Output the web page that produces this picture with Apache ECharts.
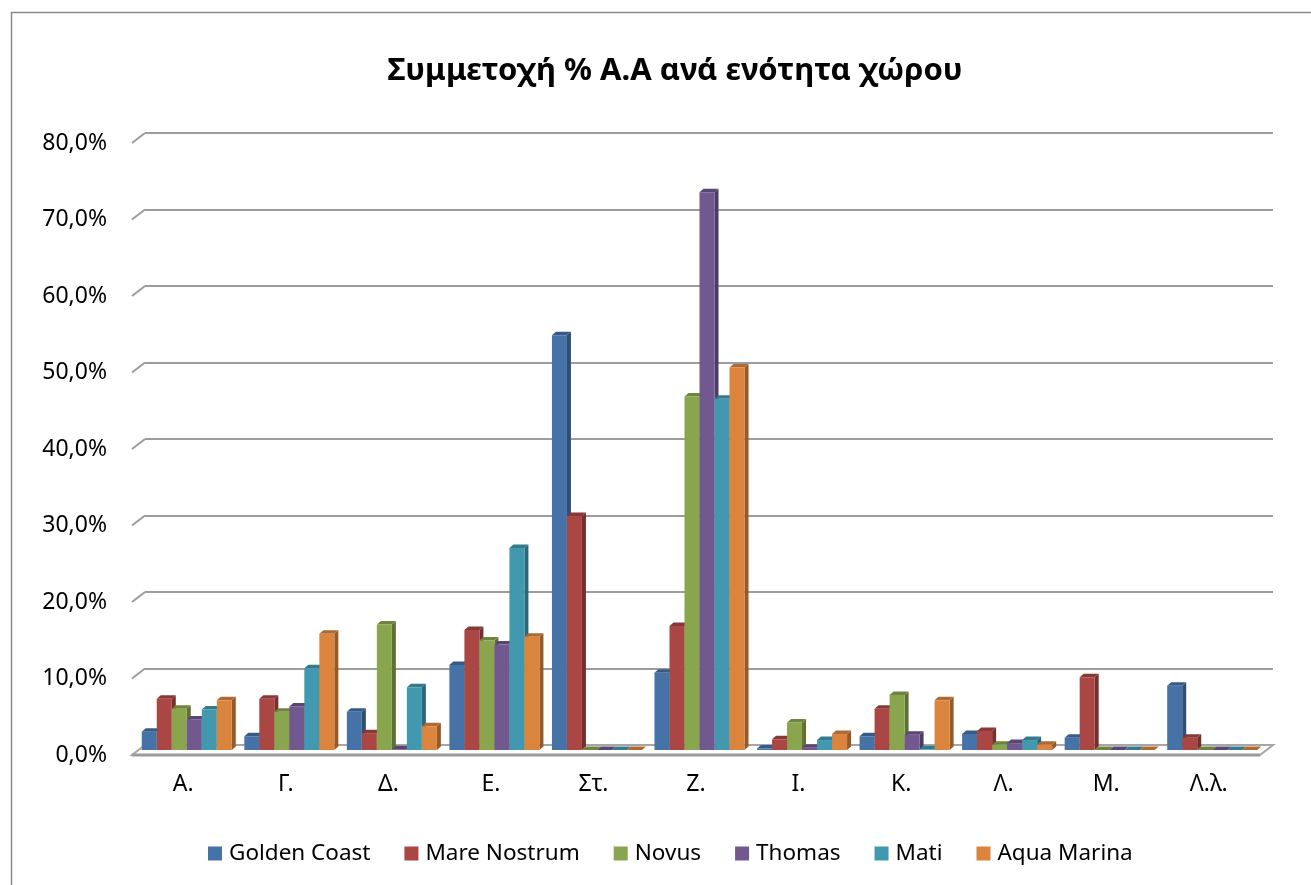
<!DOCTYPE html>
<html>
<head>
<meta charset="utf-8">
<script src="https://cdn.jsdelivr.net/npm/echarts@6/dist/echarts.min.js"></script>
<style>
  html, body { margin: 0; padding: 0; background: #ffffff; }
  #chart { width: 1311px; height: 885px; }
</style>
</head>
<body>
<div id="chart"></div>
<script>
// Participation share (%) per space unit, one array per site
const categories = ['Α.', 'Γ.', 'Δ.', 'Ε.', 'Στ.', 'Ζ.', 'Ι.', 'Κ.', 'Λ.', 'Μ.', 'Λ.λ.'];
const seriesNames = ['Golden Coast', 'Mare Nostrum', 'Novus', 'Thomas', 'Mati', 'Aqua Marina'];

const goldenCoast = [2.4, 1.8, 5.0, 11.1, 54.2, 10.1, 0.2, 1.8, 2.1, 1.6, 8.4];
const mareNostrum = [6.7, 6.7, 2.2, 15.7, 30.6, 16.2, 1.4, 5.4, 2.5, 9.5, 1.6];
const novus       = [5.4, 5.0, 16.4, 14.3, 0.0, 46.2, 3.6, 7.2, 0.7, 0.0, 0.0];
const thomas      = [4.0, 5.7, 0.1, 13.8, 0.0, 72.9, 0.3, 2.0, 0.9, 0.0, 0.0];
const mati        = [5.3, 10.7, 8.2, 26.4, 0.0, 45.9, 1.3, 0.1, 1.3, 0.0, 0.0];
const aquaMarina  = [6.5, 15.2, 3.1, 14.8, 0.0, 50.0, 2.1, 6.5, 0.7, 0.0, 0.0];

const yTicks = [0, 10, 20, 30, 40, 50, 60, 70, 80];

const seriesValues = [goldenCoast, mareNostrum, novus, thomas, mati, aquaMarina];
const frontColors = ['#4572A7', '#AA4643', '#89A54E', '#71588F', '#4198AF', '#DB843D'];

// 3D look: depth of the back wall, offset of the bar row, depth of each bar
const WALL_DX = 13, WALL_DY = -10;
const ROW_DX = 3.5, ROW_DY = -5;
const BAR_DX = 4, BAR_DY = -3.5;
const BAR_FRAC = 15 / 102.5;

function shade(hex, k) {
  const n = parseInt(hex.slice(1), 16);
  const r = Math.round(((n >> 16) & 255) * k);
  const g = Math.round(((n >> 8) & 255) * k);
  const b = Math.round((n & 255) * k);
  return 'rgb(' + r + ',' + g + ',' + b + ')';
}

function pctLabel(v) {
  return v.toFixed(1).replace('.', ',') + '%';
}

function makeBarRenderer(sIdx) {
  const front = frontColors[sIdx];
  const side = shade(front, 0.68);
  const top = shade(front, 0.8);
  return function (params, api) {
    const cat = api.value(0);
    const val = api.value(1);
    const base = api.coord([cat, 0]);
    const head = api.coord([cat, val]);
    const band = api.size([1, 0])[0];
    const bw = band * BAR_FRAC;
    const x0 = base[0] - 3 * bw + sIdx * bw + ROW_DX;
    const x1 = x0 + bw;
    const yb = base[1] + ROW_DY;
    const yt = head[1] + ROW_DY;
    return {
      type: 'group',
      children: [
        {
          type: 'polygon',
          shape: { points: [[x1, yb], [x1 + BAR_DX, yb + BAR_DY], [x1 + BAR_DX, yt + BAR_DY], [x1, yt]] },
          style: { fill: side }
        },
        {
          type: 'polygon',
          shape: { points: [[x0, yt], [x1, yt], [x1 + BAR_DX, yt + BAR_DY], [x0 + BAR_DX, yt + BAR_DY]] },
          style: { fill: top }
        },
        {
          type: 'rect',
          shape: { x: x0, y: yt, width: bw, height: Math.max(0, yb - yt) },
          style: { fill: front }
        }
      ]
    };
  };
}

const barSeries = seriesValues.map(function (vals, i) {
  return {
    type: 'custom',
    name: seriesNames[i],
    xAxisIndex: 0,
    yAxisIndex: 0,
    itemStyle: { color: frontColors[i] },
    renderItem: makeBarRenderer(i),
    data: vals.map(function (v, c) { return [c, v]; }),
    silent: true,
    z: 5
  };
});

// floor slab of the 3D plot
const floorSeries = {
  type: 'custom',
  xAxisIndex: 0,
  yAxisIndex: 0,
  silent: true,
  z: 2,
  data: [[0, 0]],
  renderItem: function (params, api) {
    const cs = params.coordSys;
    const y0 = api.coord([0, 0])[1];
    const xl = cs.x, xr = cs.x + cs.width;
    return {
      type: 'group',
      children: [
        {
          type: 'polygon',
          shape: { points: [[xl, y0], [xl + WALL_DX, y0 + WALL_DY], [xr + WALL_DX, y0 + WALL_DY], [xr, y0]] },
          style: { fill: '#ffffff', stroke: '#a6a6a6', lineWidth: 2 }
        },
        {
          type: 'line',
          shape: { x1: xl, y1: y0, x2: xr, y2: y0 },
          style: { stroke: '#9a9a9a', lineWidth: 3 }
        }
      ]
    };
  }
};

// slanted side-wall segments joining each gridline to the value axis
const sideWallSeries = {
  type: 'custom',
  xAxisIndex: 0,
  yAxisIndex: 0,
  silent: true,
  z: 2,
  data: yTicks.slice(1).map(function (v) { return [0, v]; }),
  renderItem: function (params, api) {
    const cs = params.coordSys;
    const y = api.coord([0, api.value(1)])[1];
    return {
      type: 'line',
      shape: { x1: cs.x, y1: y, x2: cs.x + WALL_DX, y2: y + WALL_DY },
      style: { stroke: '#9c9c9c', lineWidth: 2 }
    };
  }
};

const chart = echarts.init(document.getElementById('chart'), null, { renderer: 'canvas' });

const FONT = '"Noto Sans", "Open Sans", "DejaVu Sans", sans-serif';

chart.setOption({
  animation: false,
  backgroundColor: '#ffffff',
  textStyle: { fontFamily: FONT },
  title: {
    text: 'Συμμετοχή % Α.Α ανά ενότητα χώρου',
    left: 670,
    top: 51,
    textAlign: 'center',
    textStyle: { fontFamily: FONT, fontSize: 31, fontWeight: 'bold', color: '#000000' }
  },
  graphic: [
    {
      type: 'rect',
      shape: { x: 11.5, y: 12.5, width: 1400, height: 1000 },
      style: { fill: 'none', stroke: '#8a8a8a', lineWidth: 1.5 },
      silent: true,
      z: 0
    }
  ],
  legend: {
    data: seriesNames.map(function (n) { return { name: n, icon: 'rect' }; }),
    left: 203,
    top: 837,
    itemWidth: 14,
    itemHeight: 14,
    itemGap: 34,
    textStyle: { fontFamily: FONT, fontSize: 22.5, color: '#000000', padding: [0, 0, 0, 2] }
  },
  grid: [
    { left: 132, right: 51, top: 143, bottom: 130 },
    { left: 145, right: 38, top: 133, bottom: 140 }
  ],
  xAxis: [
    {
      type: 'category',
      gridIndex: 0,
      data: categories,
      axisLine: { show: false },
      axisTick: { show: false },
      axisLabel: { fontFamily: FONT, fontSize: 23, color: '#000000', margin: 18 }
    },
    {
      type: 'category',
      gridIndex: 1,
      data: categories,
      show: false
    }
  ],
  yAxis: [
    {
      type: 'value',
      gridIndex: 0,
      min: 0,
      max: 80,
      interval: 10,
      axisLine: { show: false },
      axisTick: { show: false },
      splitLine: { show: false },
      axisLabel: {
        fontFamily: FONT,
        fontSize: 23,
        color: '#000000',
        margin: 25,
        formatter: pctLabel
      }
    },
    {
      type: 'value',
      gridIndex: 1,
      min: 0,
      max: 80,
      interval: 10,
      axisLine: { show: false },
      axisTick: { show: false },
      axisLabel: { show: false },
      splitLine: { show: true, lineStyle: { color: '#9c9c9c', width: 2 } }
    }
  ],
  series: [floorSeries, sideWallSeries].concat(barSeries)
});
</script>
</body>
</html>
